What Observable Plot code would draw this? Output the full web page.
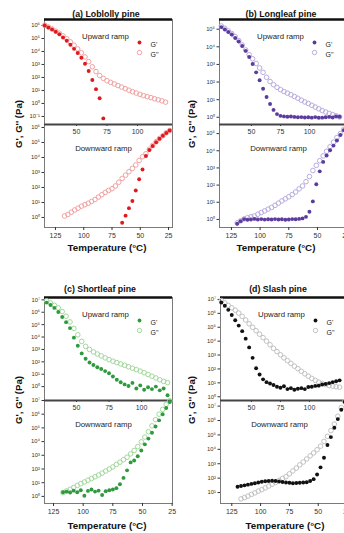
<!DOCTYPE html>
<html><head><meta charset="utf-8">
<script src="https://cdn.jsdelivr.net/npm/d3@7"></script>
<script src="https://cdn.jsdelivr.net/npm/@observablehq/plot@0.6"></script>
<style>
body{margin:0;background:#fff;}
#fig{position:relative;width:344px;height:533px;overflow:hidden;background:#fff;font-family:"Liberation Sans",Arial,sans-serif;}
#fig svg{position:absolute;overflow:visible;max-width:none;}
</style></head><body><div id="fig"></div>
<script>
// ---- data: temperatures (°C) and log10 of modulus (Pa) ----
const tempUp = [24,27,30,33,36,39,42,45,48,51,54,57,60,63,66,69,72,75,78,81,84,87,90,93,96,99,102,105,108,111,114,117,120,123,126];
const tempDown = [120,117,114,111,108,105,102,99,96,93,90,87,84,81,78,75,72,69,66,63,60,57,54,51,48,45,42,39,36,33,30,27,24];

// (a) Loblolly pine
const loblollyUpG1 = [6.0,5.85,5.7,5.52,5.32,5.08,4.82,4.52,4.2,3.88,3.52,3.05,2.5,1.8,1.1,0.4,-1.15,null,null,null,null,null,null,null,null,null,null,null,null,null,null,null,null,null,null];
const loblollyUpG2 = [6.02,5.88,5.73,5.57,5.4,5.2,4.98,4.74,4.48,4.2,3.9,3.58,3.22,2.82,2.45,2.15,1.93,1.75,1.62,1.5,1.38,1.26,1.14,1.02,0.9,0.8,0.7,0.6,0.52,0.45,0.36,0.28,0.2,0.1,null];
const loblollyDownG1 = [null,null,null,null,null,null,null,null,null,null,null,null,null,null,null,null,null,null,-0.35,0.12,0.62,1.1,1.8,2.55,3.2,4.1,4.5,4.77,5.02,5.25,5.45,5.63,5.8];
const loblollyDownG2 = [null,0.1,0.2,0.35,0.5,0.62,0.75,0.85,0.95,1.07,1.2,1.36,1.52,1.67,1.8,1.92,2.1,2.35,2.6,2.82,3.05,3.27,3.5,3.8,4.05,4.25,4.55,4.8,5.05,5.27,5.45,5.65,5.8];

// (b) Longleaf pine
const longleafUpG1 = [5.12,4.98,4.84,4.7,4.5,4.3,4.05,3.77,3.42,3.02,2.55,2.1,1.62,1.15,0.75,0.42,0.18,0.08,0.05,0.03,0.04,0.02,0.0,0.01,-0.01,0.0,-0.02,0.01,-0.03,-0.02,0.0,0.02,-0.01,0.05,0.03];
const longleafUpG2 = [5.18,5.05,4.9,4.75,4.58,4.35,4.1,3.82,3.55,3.32,3.05,2.8,2.55,2.27,2.03,1.85,1.7,1.57,1.46,1.37,1.28,1.18,1.08,0.97,0.87,0.78,0.68,0.58,0.48,0.38,0.3,0.22,0.15,0.08,0.02];
const longleafDownG1 = [-0.25,-0.1,0.02,-0.02,0.0,0.03,0.0,0.02,-0.01,0.01,0.0,0.02,0.0,0.01,-0.02,0.0,0.02,0.01,0.03,0.06,0.15,0.45,1.05,2.05,2.8,3.35,3.72,4.03,4.3,4.6,4.92,5.2,5.45];
const longleafDownG2 = [-0.2,-0.08,0.03,0.1,0.15,0.2,0.3,0.4,0.5,0.6,0.7,0.82,0.95,1.08,1.2,1.32,1.45,1.6,1.78,1.95,2.2,2.5,2.85,3.15,3.42,3.7,3.97,4.23,4.5,4.77,5.0,5.25,5.45];

// (c) Shortleaf pine
const shortleafUpG1 = [null,6.78,6.58,6.35,6.02,5.62,5.2,4.72,3.95,3.3,2.68,2.25,1.95,1.75,1.56,1.42,1.25,1.08,0.82,0.55,0.35,0.18,0.05,0.3,-0.15,0.1,-0.25,-0.05,-0.2,0.0,-0.3,-0.15,-0.7,null,null];
const shortleafUpG2 = [null,6.92,6.75,6.56,6.35,6.05,5.68,5.22,4.7,4.18,3.65,3.25,3.0,2.8,2.63,2.48,2.32,2.18,2.05,1.94,1.83,1.72,1.6,1.48,1.37,1.25,1.12,0.98,0.84,0.7,0.55,0.42,0.32,null,null];
const shortleafDownG1 = [null,0.3,0.35,0.28,0.42,0.3,0.45,0.05,0.4,0.5,0.35,0.42,0.1,0.38,0.45,0.5,0.6,0.88,1.35,1.9,2.48,2.62,2.93,3.35,3.8,4.22,4.65,5.1,5.55,6.0,6.45,6.89,null];
const shortleafDownG2 = [null,0.28,0.4,0.52,0.65,0.8,0.93,1.05,1.18,1.3,1.43,1.56,1.7,1.85,2.0,2.15,2.33,2.5,2.68,2.86,3.1,3.35,3.63,3.98,4.33,4.72,5.15,5.6,6.0,6.35,6.72,6.98,null];

// (d) Slash pine
const slashUpG1 = [6.78,6.55,6.25,5.88,5.5,5.12,4.72,4.18,3.55,2.8,2.05,1.6,1.25,1.05,0.95,0.85,0.72,0.65,0.75,0.55,0.62,0.5,0.58,0.62,0.55,0.7,0.72,0.78,0.8,0.88,0.92,0.98,1.05,1.12,1.18];
const slashUpG2 = [6.92,6.75,6.57,6.4,6.23,6.02,5.78,5.52,5.25,5.0,4.75,4.5,4.25,4.0,3.74,3.48,3.25,3.02,2.8,2.6,2.4,2.2,2.02,1.83,1.65,1.48,1.32,1.18,1.05,0.95,0.87,0.8,0.76,0.72,0.69];
const slashDownG1 = [1.4,1.45,1.5,1.55,1.6,1.65,1.7,1.75,1.78,1.8,1.82,1.8,1.77,1.73,1.7,1.68,1.65,1.66,1.68,1.7,1.72,1.8,1.93,2.25,2.75,3.42,4.3,4.85,5.5,6.1,6.75,7.3,null];
const slashDownG2 = [null,0.56,0.65,0.75,0.87,0.98,1.1,1.2,1.32,1.45,1.58,1.7,1.85,1.98,2.1,2.3,2.5,2.7,2.92,3.12,3.33,3.55,3.75,3.97,4.22,4.55,4.9,5.3,5.75,6.3,6.9,7.3,null];

// ---- labels ----
const titles = ["(a) Loblolly pine","(b) Longleaf pine","(c) Shortleaf pine","(d) Slash pine"];
const upTicksX = [50,75,100];
const downTicksX = [125,100,75,50,25];
const legendNames = ["G'","G''"];
const xTitle = "Temperature (\u00B0C)";
const yTitle = "G', G'' (Pa)";

// ---- layout / styles ----
const panels = [
  {title:titles[0], left:44, w:128, top:19, upH:105, dnH:103, upX:[23.8,128.7], dnX:[134.7,21.5], upY:[-1.62,6.46], dnY:[-0.67,6.2],
   up1:loblollyUpG1, up2:loblollyUpG2, dn1:loblollyDownG1, dn2:loblollyDownG2, color:"#e0191f", light:"#f2a3a3", tx:106, ty:15, xx:107, xy:248, yx:19, yy:124},
  {title:titles[1], left:219, w:128, top:19, upH:105, dnH:103, upX:[22.4,132.8], dnX:[135.4,23.8], upY:[-0.41,5.55], dnY:[-0.47,5.53],
   up1:longleafUpG1, up2:longleafUpG2, dn1:longleafDownG1, dn2:longleafDownG2, color:"#5b3c9e", light:"#b9acdf", tx:281, ty:15, xx:276, xy:248, yx:192, yy:124},
  {title:titles[2], left:44, w:128, top:297, upH:103, dnH:103, upX:[25.4,123.8], dnX:[132.6,24.7], upY:[-1.12,7.19], dnY:[-0.52,7.0],
   up1:shortleafUpG1, up2:shortleafUpG2, dn1:shortleafDownG1, dn2:shortleafDownG2, color:"#2e9a3e", light:"#a3d89d", tx:100, ty:290, xx:107, xy:526, yx:19, yy:400},
  {title:titles[3], left:220, w:127, top:297, upH:103, dnH:103, upX:[23.3,132.8], dnX:[134.8,24.6], upY:[-0.27,7.14], dnY:[0.24,7.39],
   up1:slashUpG1, up2:slashUpG2, dn1:slashDownG1, dn2:slashDownG2, color:"#111111", light:"#c2c2c2", tx:278, ty:290, xx:285, xy:526, yx:192, yy:400}
];

const supMap = {"-":"\u207B","0":"\u2070","1":"\u00B9","2":"\u00B2","3":"\u00B3","4":"\u2074","5":"\u2075","6":"\u2076","7":"\u2077","8":"\u2078","9":"\u2079"};
const fmtPow = v => "10" + String(Math.round(Math.log10(v))).split("").map(c => supMap[c]).join("");
const font = "Liberation Sans, Arial, sans-serif";
const fig = document.getElementById("fig");
const mL = 32, mR = 4, mT = 3, mB = 16;

function series(temps, logs) {
  return temps.map((t, i) => ({t, g: logs[i]})).filter(d => d.g != null).map(d => ({t: d.t, G: Math.pow(10, d.g)}));
}

function subplot(p, isUp) {
  const temps = isUp ? tempUp : tempDown;
  const s1 = series(temps, isUp ? p.up1 : p.dn1);
  const s2 = series(temps, isUp ? p.up2 : p.dn2);
  const fh = isUp ? p.upH : p.dnH;
  const yd = isUp ? p.upY : p.dnY;
  const yTicks = d3.range(Math.ceil(yd[0] + 0.2), Math.floor(yd[1] + 1e-9) + 1).map(e => Math.pow(10, e));
  const marks = [
    Plot.frame({stroke:"#7a7a7a", strokeWidth:1}),
    Plot.ruleY([Math.pow(10, yd[1])], {stroke: isUp ? "#111" : "#444", strokeWidth: isUp ? 2.4 : 1.8}),
    Plot.axisY({ticks:yTicks, tickFormat:fmtPow, tickSize:2.5, tickPadding:2, fontSize:5.8, label:null}),
    Plot.axisX({ticks: isUp ? upTicksX : downTicksX, tickSize: isUp ? 2 : 3, tickPadding:3, fontSize:7, label:null}),
    Plot.dot(s2, {x:"t", y:"G", r:2.3, stroke:p.light, strokeWidth:1, fill:"none"}),
    Plot.dot(s1, {x:"t", y:"G", r:1.95, fill:p.color, stroke:"none"})
  ];
  if (isUp) {
    marks.push(
      Plot.text(["Upward ramp"], {frameAnchor:"top-left", dx:61, dy:14, textAnchor:"middle", fontSize:7.8, fill:"#222"}),
      Plot.dot([legendNames[0]], {frameAnchor:"top-left", dx:95, dy:23, r:1.9, fill:p.color, stroke:"none"}),
      Plot.dot([legendNames[1]], {frameAnchor:"top-left", dx:95, dy:33, r:2.2, stroke:p.light, strokeWidth:1, fill:"none"}),
      Plot.text([legendNames[0]], {frameAnchor:"top-left", dx:106, dy:23, textAnchor:"start", fontSize:7, fill:"#222"}),
      Plot.text([legendNames[1]], {frameAnchor:"top-left", dx:106, dy:33, textAnchor:"start", fontSize:7, fill:"#222"})
    );
  } else {
    marks.push(Plot.text(["Downward ramp"], {frameAnchor:"top-left", dx:59, dy:21, textAnchor:"middle", fontSize:7.8, fill:"#222"}));
  }
  const svg = Plot.plot({
    width: p.w + mL + mR, height: fh + mT + mB,
    marginLeft: mL, marginRight: mR, marginTop: mT, marginBottom: mB,
    style: {background:"transparent", overflow:"visible", color:"#333", fontFamily: font},
    x: {domain: isUp ? p.upX : p.dnX},
    y: {type:"log", domain:[Math.pow(10, yd[0]), Math.pow(10, yd[1])]},
    marks
  });
  svg.style.left = (p.left - mL) + "px";
  svg.style.top = ((isUp ? p.top : p.top + p.upH) - mT) + "px";
  fig.appendChild(svg);
}

for (const p of panels) { subplot(p, true); subplot(p, false); }

// panel titles & axis titles
const ov = d3.select(fig).append("svg").attr("width", 344).attr("height", 533)
  .style("left", "0px").style("top", "0px").style("font-family", font);
for (const p of panels) {
  ov.append("text").attr("x", p.tx).attr("y", p.ty).attr("text-anchor", "middle").attr("dominant-baseline", "middle")
    .attr("font-size", 8.8).attr("font-weight", "bold").attr("fill", "#111").text(p.title);
  ov.append("text").attr("x", p.xx).attr("y", p.xy).attr("text-anchor", "middle").attr("dominant-baseline", "middle")
    .attr("font-size", 9.8).attr("font-weight", "bold").attr("fill", "#111").text(xTitle);
  ov.append("text").attr("transform", `translate(${p.yx},${p.yy}) rotate(-90)`).attr("text-anchor", "middle").attr("dominant-baseline", "middle")
    .attr("font-size", 9.6).attr("font-weight", "bold").attr("fill", "#111").text(yTitle);
}
</script></body></html>
